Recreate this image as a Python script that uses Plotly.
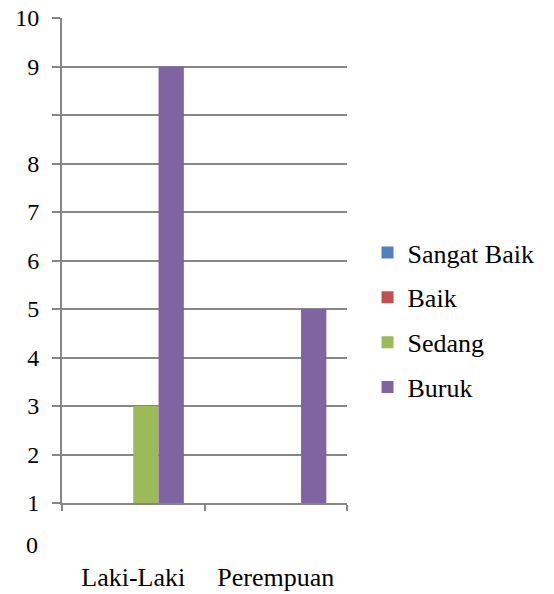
import numpy as np
import plotly.graph_objects as go

# ---- data ----
categories = ["Laki-Laki", "Perempuan"]
series_names = ["Sangat Baik", "Baik", "Sedang", "Buruk"]
sangat_baik = [0, 0]
baik = [0, 0]
sedang = [3, 0]
buruk = [9, 5]
colors = ["#4F81BD", "#C0504D", "#9BBB59", "#8064A2"]

# y-axis labels as printed in the chart and the gridline each one sits on
label_values = [0, 1, 2, 3, 4, 5, 6, 7, 8, 9, 10]
label_text = ["0", "1", "2", "3", "4", "5", "6", "7", "8", "9", "10"]
label_grid = [-0.87, 0, 1, 2, 3, 4, 5, 6, 7, 9, 10]
grid_lines = [0, 1, 2, 3, 4, 5, 6, 7, 8, 9, 10]
y_range = [0, 10]


def to_grid(v):
    return max(float(np.interp(v, label_values, label_grid)), 0.0)


FONT = "Liberation Serif"
GRAY = "#868686"

fig = go.Figure()
for name, vals, col in zip(series_names, [sangat_baik, baik, sedang, buruk], colors):
    fig.add_trace(go.Bar(
        x=categories, y=[to_grid(v) for v in vals], name=name,
        marker=dict(color=col, line=dict(width=0)),
        legendgroup=name,
    ))

tick_text = []
for g in grid_lines:
    t = ""
    for lv, lt, lg in zip(label_values, label_text, label_grid):
        if lg == g:
            t = lt
    tick_text.append(t)

fig.update_layout(
    width=554, height=594,
    margin=dict(l=62, r=207, t=18, b=91, autoexpand=False),
    paper_bgcolor="white", plot_bgcolor="white",
    barmode="group", bargap=0.29, bargroupgap=0,
    font=dict(family=FONT, size=24, color="black"),
    showlegend=True,
    legend=dict(x=1.072, xanchor="left", y=0.377, yanchor="middle",
                xref="paper", yref="paper", tracegroupgap=8,
                font=dict(family=FONT, size=26), itemwidth=30),
    xaxis=dict(showline=True, linecolor=GRAY, linewidth=2,
               ticks="outside", ticklen=6, tickcolor=GRAY, tickwidth=2,
               tickson="boundaries", showgrid=False, automargin=False,
               ticklabelstandoff=50, tickfont=dict(family=FONT, size=26)),
    yaxis=dict(range=y_range, tickmode="array", tickvals=grid_lines,
               ticktext=tick_text, showgrid=True, gridcolor=GRAY, gridwidth=2,
               showline=True, linecolor=GRAY, linewidth=2, automargin=False,
               ticks="outside", ticklen=8, tickcolor=GRAY, tickwidth=2,
               zeroline=False, ticklabelstandoff=8,
               tickfont=dict(family=FONT, size=24)),
)

zero_idx = label_values.index(0)
zero_paper = (label_grid[zero_idx] - y_range[0]) / (y_range[1] - y_range[0])
fig.add_annotation(x=0, xref="paper", y=zero_paper, yref="paper",
                   text=label_text[zero_idx], showarrow=False,
                   xanchor="right", yanchor="middle", xshift=-22,
                   font=dict(family=FONT, size=24))

fig.write_html("out.html")
